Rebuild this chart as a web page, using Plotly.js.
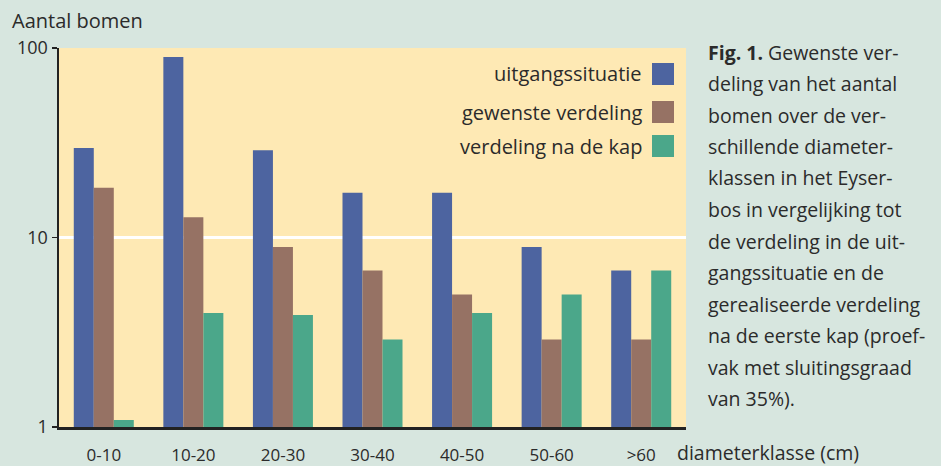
<!DOCTYPE html>
<html>
<head>
<meta charset="utf-8">
<script src="https://cdn.plot.ly/plotly-3.0.1.min.js"></script>
<style>
  html, body { margin: 0; padding: 0; background: #d7e6df; }
  #chart { width: 941px; height: 466px; }
</style>
</head>
<body>
<div id="chart"></div>
<script>
// ---- data ----
const categories = ["0-10", "10-20", "20-30", "30-40", "40-50", "50-60", ">60"];
const uitgangssituatie = [29.7, 89.6, 28.9, 17.2, 17.2, 8.9, 6.7];
const gewensteVerdeling = [18.3, 12.8, 8.9, 6.7, 5.0, 2.9, 2.9];
const verdelingNaDeKap = [1.09, 4.0, 3.9, 2.9, 4.0, 5.0, 6.7];
const seriesNames = ["uitgangssituatie", "gewenste verdeling", "verdeling na de kap"];
const yTickVals = [1, 10, 100];
const yTickText = ["1", "10", "100"];
const yAxisTitle = "Aantal bomen";
const xAxisTitle = "diameterklasse (cm)";
const captionBold = "Fig. 1.";
const captionLines = [
  "Gewenste ver-",
  "deling van het aantal",
  "bomen over de ver-",
  "schillende diameter-",
  "klassen in het Eyser-",
  "bos in vergelijking tot",
  "de verdeling in de uit-",
  "gangssituatie en de",
  "gerealiseerde verdeling",
  "na de eerste kap (proef-",
  "vak met sluitingsgraad",
  "van 35%)."
];

// ---- styles ----
const colors = ["#4d64a0", "#967264", "#4ba78a"];
const FONT = "Open Sans, sans-serif";
const TXT = "#2b2b2b";

const W = 941, H = 466;
const M = { l: 59, r: 255, t: 48, b: 39 };
const PW = W - M.l - M.r, PH = H - M.t - M.b;
const px = x => (x - M.l) / PW;
const py = y => (H - M.b - y) / PH;

const allSeries = [uitgangssituatie, gewensteVerdeling, verdelingNaDeKap];
const traces = allSeries.map((vals, i) => ({
  type: "bar",
  x: categories,
  y: vals,
  name: seriesNames[i],
  marker: { color: colors[i], line: { width: 0 } },
  hoverinfo: "x+y+name"
}));

const annotations = [];
const shapes = [];

// y axis title
annotations.push({
  xref: "paper", yref: "paper", x: px(10), y: py(21),
  xanchor: "left", yanchor: "middle", showarrow: false,
  text: yAxisTitle, font: { family: FONT, size: 20, color: TXT }
});
// x axis title
annotations.push({
  xref: "paper", yref: "paper", x: px(675), y: py(452),
  xanchor: "left", yanchor: "middle", showarrow: false,
  text: xAxisTitle, font: { family: FONT, size: 19.5, color: TXT }
});

// legend (text left of swatch)
const legendRows = [74, 112, 146];
seriesNames.forEach((n, i) => {
  annotations.push({
    xref: "paper", yref: "paper", x: px(644), y: py(legendRows[i]),
    xanchor: "right", yanchor: "middle", showarrow: false,
    text: n, font: { family: FONT, size: 20, color: TXT }
  });
  shapes.push({
    type: "rect", xref: "paper", yref: "paper",
    x0: px(652), x1: px(674), y0: py(legendRows[i] - 11), y1: py(legendRows[i] + 11),
    fillcolor: colors[i], line: { width: 0 }
  });
});

// caption
captionLines.forEach((line, i) => {
  const t = i === 0 ? "<b>" + captionBold + "</b> " + line : line;
  annotations.push({
    xref: "paper", yref: "paper", x: px(706), y: py(52 + i * 31.5),
    xanchor: "left", yanchor: "middle", showarrow: false,
    text: t, font: { family: FONT, size: 19.5, color: TXT }
  });
});

const layout = {
  width: W, height: H,
  margin: M,
  paper_bgcolor: "#d7e6df",
  plot_bgcolor: "#fee9b4",
  showlegend: false,
  barmode: "group",
  bargap: 0.33,
  bargroupgap: 0,
  font: { family: FONT, color: TXT },
  xaxis: {
    type: "category",
    showline: true, linecolor: "#222", linewidth: 2.5,
    ticks: "", showgrid: false, zeroline: false,
    tickfont: { family: FONT, size: 17, color: TXT },
    ticklabelstandoff: 11
  },
  yaxis: {
    type: "log", range: [0, 2],
    tickvals: yTickVals, ticktext: yTickText,
    showline: true, linecolor: "#222", linewidth: 2.5,
    ticks: "outside", ticklen: 5, tickwidth: 1.5, tickcolor: "#222",
    showgrid: false, zeroline: false,
    tickfont: { family: FONT, size: 18, color: TXT },
    minor: { tickvals: [10], showgrid: true, gridcolor: "#ffffff", gridwidth: 3, ticks: "" }
  },
  annotations: annotations,
  shapes: shapes
};

Plotly.newPlot("chart", traces, layout, { displayModeBar: false, staticPlot: true });
</script>
</body>
</html>
